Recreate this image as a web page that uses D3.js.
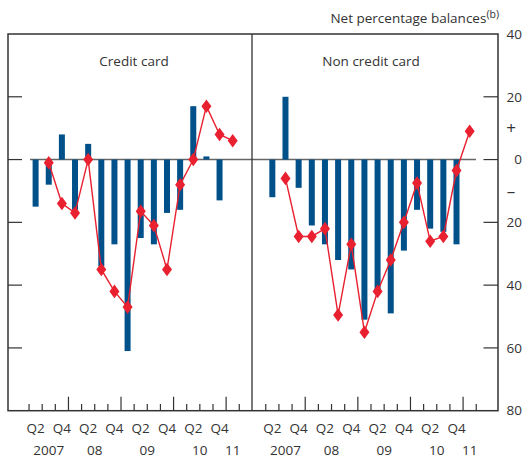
<!DOCTYPE html>
<html>
<head>
<meta charset="utf-8">
<script src="https://cdn.jsdelivr.net/npm/d3@7"></script>
<style>
  html, body { margin: 0; padding: 0; background: #fff; }
  svg { display: block; }
  text { font-family: "Open Sans", "Noto Sans", sans-serif; fill: #333; }
</style>
</head>
<body>
<svg id="chart" width="526" height="458"></svg>
<script>
// ---- Data ----
// Bars: Q2 2007 .. Q4 2010 ; Diamonds: Q3 2007 .. Q1 2011
const panels = ["Credit card", "Non credit card"];
const barStartQuarter = 1;      // index of Q2 2007 (Q1 2007 = 0)
const diamondStartQuarter = 2;  // index of Q3 2007
const creditBars = [-15, -8, 8, -16, 5, -34, -27, -61, -25, -27, -17, -16, 17, 1, -13];
const creditDiamonds = [-1, -14, -17, 0, -35, -42, -47, -16.5, -21, -35, -8, 0, 17, 8, 6];
const nonCreditBars = [-12, 20, -9, -21, -27, -32, -35, -51, -42, -49, -29, -16, -22, -23, -27];
const nonCreditDiamonds = [-6, -24.5, -24.5, -22, -49.5, -27, -55, -42, -32, -20, -7.5, -26, -24.5, -3.5, 9];
const quarterLabels = [
  {q: 1, t: "Q2"}, {q: 3, t: "Q4"}, {q: 5, t: "Q2"}, {q: 7, t: "Q4"},
  {q: 9, t: "Q2"}, {q: 11, t: "Q4"}, {q: 13, t: "Q2"}, {q: 15, t: "Q4"}
];
const yearLabels = [
  {q: 2, t: "2007"}, {q: 5.5, t: "08"}, {q: 9.5, t: "09"}, {q: 13.5, t: "10"}, {q: 16, t: "11"}
];
const yTicks = [40, 20, 0, -20, -40, -60, -80];
const yTickLabels = ["40", "20", "0", "20", "40", "60", "80"];
const signLabels = [{v: 10, t: "+"}, {v: -10, t: "\u2013"}];

// ---- Layout ----
const svg = d3.select("#chart");
const frame = {left: 8, top: 34, right: 498, bottom: 410.7, mid: 252};
const nQuarters = 18;
const y = d3.scaleLinear().domain([-80, 40]).range([frame.bottom, frame.top]);
const xScales = [
  d3.scaleLinear().domain([0, nQuarters]).range([15.9, 252.4]),
  d3.scaleLinear().domain([0, nQuarters]).range([252.6, 489.4])
];
const blue = "#00508a", red = "#e8202f", axisCol = "#333", zeroCol = "#666";
const barW = 6;
const diamond = "M0,-6.8L5,0L0,6.8L-5,0Z";
const fs = 13.5;

const series = [
  {bars: creditBars, dia: creditDiamonds},
  {bars: nonCreditBars, dia: nonCreditDiamonds}
];

// zero lines
svg.append("line").attr("x1", 30).attr("x2", frame.mid)
  .attr("y1", y(0)).attr("y2", y(0)).attr("stroke", zeroCol).attr("stroke-width", 1.5);
svg.append("line").attr("x1", frame.mid).attr("x2", 476)
  .attr("y1", y(0)).attr("y2", y(0)).attr("stroke", zeroCol).attr("stroke-width", 1.5);

series.forEach((s, i) => {
  const x = xScales[i];
  const g = svg.append("g");
  // bars
  g.selectAll("rect").data(s.bars).join("rect")
    .attr("x", (d, j) => x(barStartQuarter + j + 0.5) - barW / 2)
    .attr("width", barW)
    .attr("y", d => Math.min(y(d), y(0)))
    .attr("height", d => Math.abs(y(d) - y(0)))
    .attr("fill", blue);
  // line
  const line = d3.line()
    .x((d, j) => x(diamondStartQuarter + j + 0.5))
    .y(d => y(d));
  g.append("path").datum(s.dia).attr("d", line)
    .attr("fill", "none").attr("stroke", red).attr("stroke-width", 1.4);
  g.selectAll("path.dia").data(s.dia).join("path").attr("class", "dia")
    .attr("d", diamond)
    .attr("transform", (d, j) => `translate(${x(diamondStartQuarter + j + 0.5)},${y(d)})`)
    .attr("fill", red);

  // x ticks
  const ticks = d3.range(1, nQuarters);
  g.selectAll("line.xt").data(ticks).join("line").attr("class", "xt")
    .attr("x1", d => x(d)).attr("x2", d => x(d))
    .attr("y1", frame.bottom)
    .attr("y2", d => frame.bottom - (d % 4 === 0 ? 14 : 6.7))
    .attr("stroke", axisCol).attr("stroke-width", 1.2);
  // quarter labels
  g.selectAll("text.ql").data(quarterLabels).join("text").attr("class", "ql")
    .attr("x", d => x(d.q + 0.5)).attr("y", 433)
    .attr("text-anchor", "middle").attr("font-size", fs).text(d => d.t);
  g.selectAll("text.yl").data(yearLabels).join("text").attr("class", "yl")
    .attr("x", d => x(d.q + 0.5)).attr("y", 455)
    .attr("text-anchor", "middle").attr("font-size", fs).text(d => d.t);
  // panel title
  g.append("text").attr("x", i === 0 ? 134 : 371).attr("y", 66)
    .attr("text-anchor", "middle").attr("font-size", fs).text(panels[i]);
});

// y ticks (inside)
const innerTicks = yTicks.filter(v => v < 40 && v > -80);
svg.selectAll("line.ylt").data(innerTicks).join("line").attr("class", "ylt")
  .attr("x1", frame.left).attr("x2", 22).attr("y1", d => y(d)).attr("y2", d => y(d))
  .attr("stroke", axisCol).attr("stroke-width", 1.2);
svg.selectAll("line.yrt").data(innerTicks).join("line").attr("class", "yrt")
  .attr("x1", 483.5).attr("x2", frame.right).attr("y1", d => y(d)).attr("y2", d => y(d))
  .attr("stroke", axisCol).attr("stroke-width", 1.2);

// right axis labels
svg.selectAll("text.yr").data(yTicks).join("text").attr("class", "yr")
  .attr("x", 522).attr("y", d => y(d)).attr("dy", "0.35em")
  .attr("text-anchor", "end").attr("font-size", fs)
  .text((d, i) => yTickLabels[i]);
svg.selectAll("text.sg").data(signLabels).join("text").attr("class", "sg")
  .attr("x", 511).attr("y", d => y(d.v)).attr("dy", "0.36em")
  .attr("text-anchor", "middle").attr("font-size", 17).text(d => d.t);

// frame
svg.append("rect").attr("x", frame.left).attr("y", frame.top)
  .attr("width", frame.right - frame.left).attr("height", frame.bottom - frame.top)
  .attr("fill", "none").attr("stroke", axisCol).attr("stroke-width", 1.5);
svg.append("line").attr("x1", frame.mid).attr("x2", frame.mid)
  .attr("y1", frame.top).attr("y2", frame.bottom)
  .attr("stroke", axisCol).attr("stroke-width", 1.3);

// units title
const t = svg.append("text").attr("x", 499).attr("y", 23)
  .attr("text-anchor", "end").attr("font-size", fs);
t.append("tspan").text("Net percentage balances");
t.append("tspan").attr("font-size", 10.5).attr("dy", -5).text("(b)");
</script>
</body>
</html>
